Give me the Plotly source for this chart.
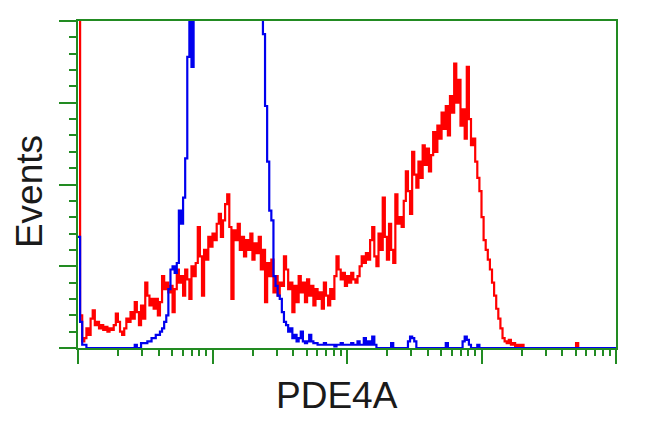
import numpy as np
import plotly.graph_objects as go

# Histogram channel counts (256 channels over 4 log decades), scale: 100 = top of plot
red_counts = [
    300, 10, 2, 3, 6, 4, 9, 11.5, 7, 8, 6, 7, 5.5, 6.5, 5, 6,
    5.5, 7, 10.5, 8, 5, 4, 6, 9, 8, 11, 9, 14, 11, 7, 13, 9,
    20, 16, 13, 15, 12, 15, 10, 14, 22, 18, 20, 17, 19, 11, 18, 24,
    20, 22, 16, 24, 21, 15, 25, 22, 26, 37, 28, 16, 30, 27, 34, 31,
    35, 33, 38, 41, 34, 39, 44, 47, 37, 15, 36, 33, 38, 30, 34, 28,
    33, 30, 35, 27, 32, 29, 34, 24, 30, 14, 26, 22, 27, 17, 22, 16,
    20, 19, 28, 24, 18, 20, 11, 19, 14, 22, 17, 20, 14, 21, 16, 19,
    13, 18, 15, 17, 12, 20, 16, 13, 18, 15, 22, 28, 24, 21, 23, 19,
    22, 20, 23, 21, 20, 22, 25, 28, 26, 29, 27, 33, 37, 28, 25, 35,
    30, 46, 34, 27, 38, 30, 26, 47, 38, 40, 37, 45, 54, 48, 41, 60,
    53, 49, 57, 52, 62, 56, 61, 54, 59, 66, 60, 68, 64, 72, 67, 74,
    65, 77, 72, 87, 75, 82, 68, 73, 64, 86, 70, 62, 64, 57, 52, 48,
    40, 33, 30, 27, 24, 20, 16, 12, 9, 6, 3, 2, 1.5, 2.5, 1, 1.5,
    0.5, 1, 0.5, 1, 0, 0, 0, 0, 0, 0, 0, 0, 0, 0, 0, 0,
    0, 0, 0, 0, 0, 0, 0, 0, 0, 0, 0, 0, 0, 1.5, 0, 0,
    0, 0, 0, 0, 0, 0, 0, 0, 0, 0, 0, 0, 0, 0, 0, 0,
]

blue_counts = [
    34, 8, 1, 1, 0, 0, 0, 0, 0, 0, 0, 0, 0, 0, 0, 0,
    0, 0, 0, 0, 0, 0, 0, 0, 0, 0, 0, 1, 0, 0, 1.5, 1.5,
    1.5, 2, 2, 3, 3, 4, 4, 5, 6, 8, 10, 18, 24, 25, 23, 26,
    42, 38, 46, 58, 89, 110, 86, 130, 180, 220, 250, 280, 300, 300, 300, 300,
    300, 300, 300, 300, 300, 300, 300, 300, 300, 300, 300, 300, 300, 300, 300, 300,
    300, 300, 300, 300, 280, 250, 200, 150, 96, 74, 57, 42, 39, 22, 19, 16,
    15, 11, 8, 7, 5, 6, 3, 4, 2, 3, 5, 2, 1.5, 2, 4, 2,
    1.5, 1.5, 1, 1, 1, 1.5, 1, 1, 1, 1, 0.5, 1, 1, 1.5, 1, 1,
    1, 1, 1.5, 1, 1, 2, 1, 1, 3, 1, 2, 1, 3.5, 1, 0, 0,
    0, 0, 0, 0, 0, 1.5, 0, 0, 0, 0, 0, 0, 0, 2, 3.5, 3,
    2, 0, 0, 0, 0, 0, 0, 0, 0, 0, 0, 0, 0, 0, 0, 1.5,
    0, 0, 0, 0, 0, 0, 0, 2, 3.5, 2.5, 1, 0, 0, 0, 1, 0,
    0, 0, 0, 0, 0, 0, 0, 0, 0, 0, 0, 0, 0, 0, 0, 0,
    0, 0, 0, 0, 0, 0, 0, 0, 0, 0, 0, 0, 0, 0, 0, 0,
    0, 0, 0, 0, 0, 0, 0, 0, 0, 0, 0, 0, 0, 0, 0, 0,
    0, 0, 0, 0, 0, 0, 0, 0, 0, 0, 0, 0, 0, 0, 0, 0,
]

x_title = "PDE4A"
y_title = "Events"

n_channels = len(red_counts)
decades = 4
edges = 10 ** (np.arange(n_channels + 1) * decades / n_channels)


def step_xy(counts):
    xs = list(edges[:-1]) + [edges[-1]]
    ys = list(counts) + [counts[-1]]
    return xs, ys


GREEN = "#228B22"

fig = go.Figure()
rx, ry = step_xy(red_counts)
bx, by = step_xy(blue_counts)
fig.add_trace(go.Scatter(x=rx, y=ry, mode="lines", line=dict(color="#ff0000", width=2.2, shape="hv"),
                         hoverinfo="skip", showlegend=False))
fig.add_trace(go.Scatter(x=bx, y=by, mode="lines", line=dict(color="#0000ee", width=2.2, shape="hv"),
                         hoverinfo="skip", showlegend=False))

major_x = [10 ** k for k in range(decades + 1)]
minor_x = [m * 10 ** k for k in range(decades) for m in range(2, 10)]
major_y = [0, 25, 50, 75, 100]
minor_y = [v for v in range(0, 101, 5) if v not in major_y]

fig.update_xaxes(
    type="log", range=[0, decades], showgrid=False, zeroline=False,
    showline=True, linecolor=GREEN, linewidth=2, mirror=True,
    tickmode="array", tickvals=major_x, ticks="outside", ticklen=14, tickwidth=2,
    tickcolor=GREEN, showticklabels=False,
    minor=dict(tickmode="array", tickvals=minor_x, ticks="outside", ticklen=6,
               tickwidth=2, tickcolor=GREEN, showgrid=False),
)
fig.update_yaxes(
    range=[0, 100], showgrid=False, zeroline=False,
    showline=True, linecolor=GREEN, linewidth=2, mirror=True,
    tickmode="array", tickvals=major_y, ticks="outside", ticklen=17, tickwidth=2,
    tickcolor=GREEN, showticklabels=False,
    minor=dict(tickmode="array", tickvals=minor_y, ticks="outside", ticklen=7,
               tickwidth=2, tickcolor=GREEN, showgrid=False),
)

fig.add_annotation(text=x_title, xref="paper", yref="paper", x=0.481, y=-0.145,
                   xanchor="center", yanchor="middle", showarrow=False,
                   font=dict(family="Liberation Sans, Arial, sans-serif", size=37, color="#1a1a1a"))
fig.add_annotation(text=y_title, xref="paper", yref="paper", x=-0.091, y=0.477,
                   xanchor="center", yanchor="middle", showarrow=False, textangle=-90,
                   font=dict(family="Liberation Sans, Arial, sans-serif", size=37, color="#1a1a1a"))

fig.update_layout(
    width=650, height=431,
    margin=dict(l=78, r=34, t=21, b=83),
    paper_bgcolor="white", plot_bgcolor="white",
)

fig.write_html("out.html", config={"displayModeBar": False},
               post_script="document.body.style.margin='0px';")
